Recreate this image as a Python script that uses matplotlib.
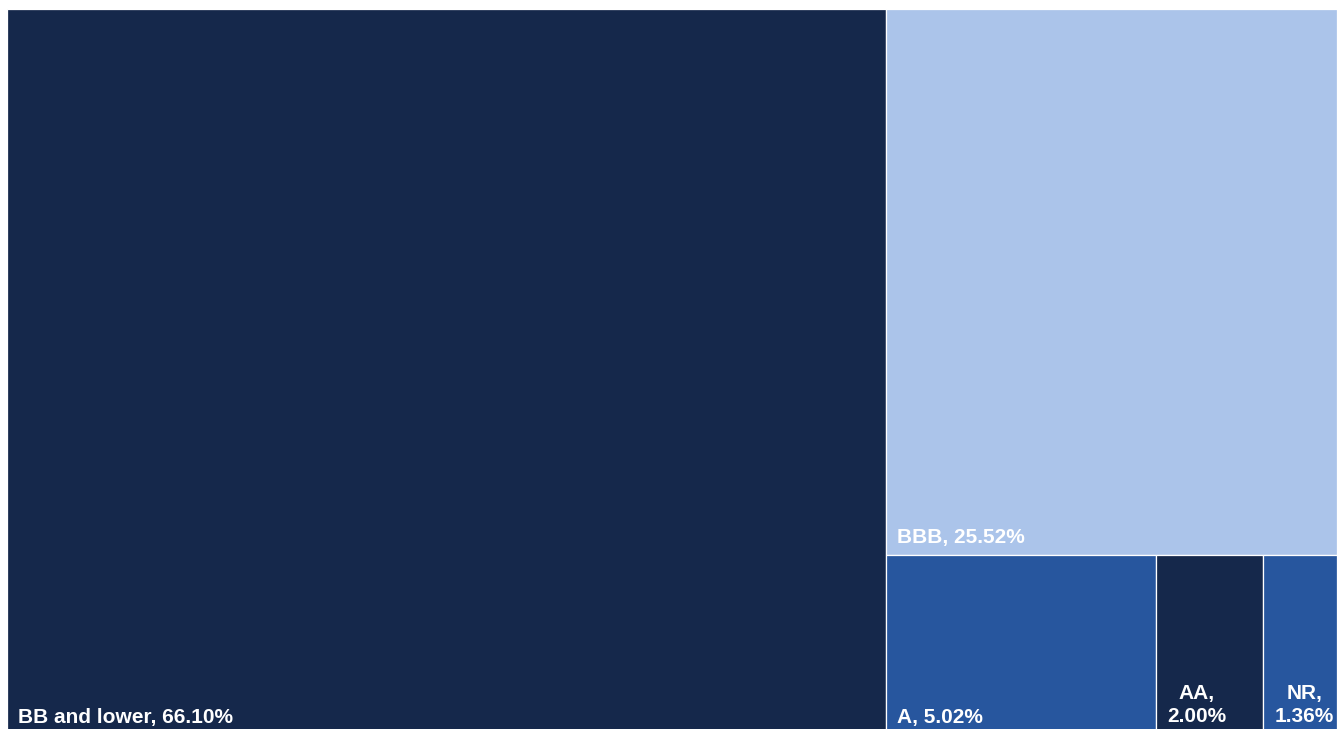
import matplotlib
matplotlib.use("Agg")
import matplotlib.pyplot as plt
from matplotlib.patches import Rectangle
from matplotlib.transforms import offset_copy

# Portfolio composition by credit rating (%)
labels = ["BB and lower", "BBB", "A", "AA", "NR"]
shares = [66.10, 25.52, 5.02, 2.00, 1.36]
tile_text = ["BB and lower, 66.10%", "BBB, 25.52%", "A, 5.02%", "AA,\n2.00%", "NR,\n1.36%"]
colors = ["#15284B", "#ABC4EA", "#27569E", "#15284B", "#27569E"]

W, H = 1330.0, 725.0  # drawing area in pixel-like units


def worst(row, side):
    s = sum(row)
    return max(max(side * side * r / (s * s), (s * s) / (side * side * r)) for r in row)


def layout_row(row, x, y, w, h):
    s = sum(row)
    rects = []
    if w >= h:
        # column on the left, stacked top-to-bottom
        cw = s / h
        cy = y
        for r in row:
            rh = r / cw
            rects.append((x, cy, cw, rh))
            cy += rh
        return rects, (x + cw, y, w - cw, h)
    else:
        # row on top, laid left-to-right
        rh = s / w
        cx = x
        for r in row:
            rw = r / rh
            rects.append((cx, y, rw, rh))
            cx += rw
        return rects, (x, y + rh, w, h - rh)


def squarify(values, x, y, w, h):
    total = sum(values)
    areas = [v * w * h / total for v in values]
    rects = []
    rect = (x, y, w, h)
    row = []
    i = 0
    while i < len(areas):
        side = min(rect[2], rect[3])
        cand = row + [areas[i]]
        if not row or worst(cand, side) <= worst(row, side):
            row = cand
            i += 1
        else:
            r, rect = layout_row(row, *rect)
            rects += r
            row = []
    if row:
        r, rect = layout_row(row, *rect)
        rects += r
    return rects


rects = squarify(shares, 0, 0, W, H)

fig = plt.figure(figsize=(13.42, 7.29), dpi=100)
ax = fig.add_axes([6.5 / 1342, -5 / 729, W / 1342, H / 729])
ax.set_xlim(0, W)
ax.set_ylim(H, 0)  # y grows downward, top row first
ax.axis("off")

font = ["Liberation Sans", "DejaVu Sans"]
for (x, y, w, h), txt, c in zip(rects, tile_text, colors):
    ax.add_patch(Rectangle((x, y), w, h, facecolor=c, edgecolor="white", linewidth=0.9))
    tr = offset_copy(ax.transData, fig=fig, x=8.3, y=5.4, units="points")
    ax.text(x, y + h, txt, transform=tr, ha="left", va="bottom", multialignment="center",
            color="white", fontsize=15, fontweight="bold", family=font, linespacing=1.32)

fig.savefig("out.png", dpi=100, facecolor="white")
